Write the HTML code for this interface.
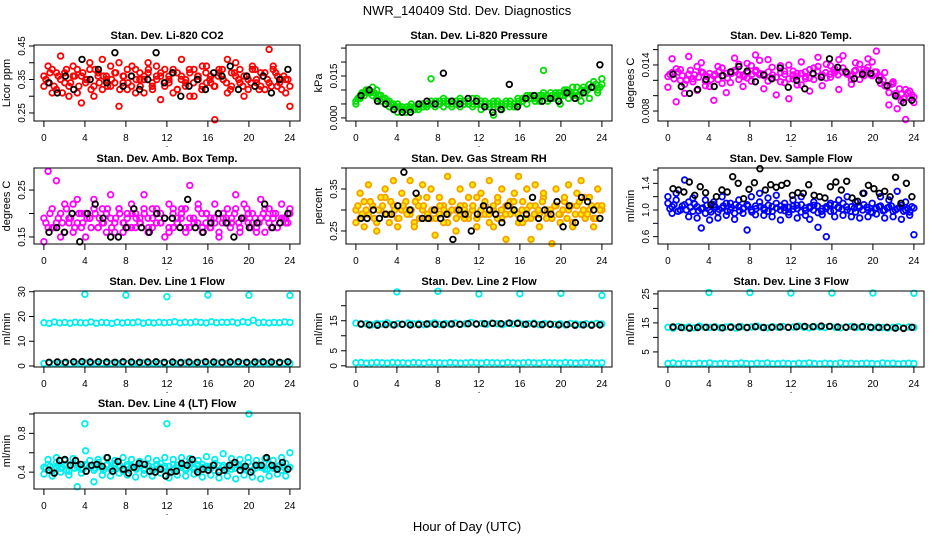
<!DOCTYPE html>
<html><head><meta charset="utf-8"><style>
html,body{margin:0;padding:0;background:#fff;}
svg{display:block;font-family:"Liberation Sans",sans-serif;}
</style></head><body>
<svg id="chart" width="936" height="540" viewBox="0 0 936 540" xmlns="http://www.w3.org/2000/svg">
<text x="467" y="15" text-anchor="middle" font-size="13">NWR_140409 Std. Dev. Diagnostics</text>
<text x="467" y="531" text-anchor="middle" font-size="13">Hour of Day (UTC)</text>
</svg>
<script>
const xTicks=[0,4,8,12,16,20,24];
const outHours=[4,8,12,16,20,24];

const co2Main=[0.36,0.34,0.38,0.32,0.35,0.37,0.33,0.39,0.31,0.36,0.34,0.38,0.30,0.36,0.41,0.35,0.33,0.37,0.40,0.34,0.32,0.36,0.38,0.35,0.31,0.37,0.34,0.39,0.36,0.33,0.35,0.38,0.32,0.36,0.34,0.37,0.30,0.35,0.39,0.34,0.36,0.33,0.38,0.35,0.31,0.37,0.40,0.34,0.36,0.32,0.38,0.35,0.33,0.37,0.34,0.39,0.36,0.32,0.35,0.33];
const co2Alt=[0.33,0.39,0.31,0.37,0.42,0.34,0.30,0.36,0.38,0.28,0.35,0.40,0.33,0.37,0.32,0.36,0.39,0.34,0.27,0.36,0.38,0.33,0.31,0.37,0.35,0.40,0.33,0.36,0.29,0.38,0.34,0.37,0.32,0.41,0.35,0.30,0.38,0.36,0.33,0.39,0.34,0.23,0.37,0.35,0.41,0.33,0.36,0.38,0.30,0.35,0.39,0.34,0.37,0.32,0.44,0.38,0.33,0.35,0.31,0.27];
const co2Extra=[0.35,0.37,0.33,0.36,0.31,0.38,0.34,0.36,0.33,0.37,0.35,0.32,0.38,0.34,0.36,0.33,0.35,0.37,0.32,0.36,0.34,0.39,0.35,0.33,0.36,0.38,0.32,0.35,0.37,0.34,0.36,0.31,0.37,0.35,0.33,0.38,0.34,0.36,0.32,0.37,0.35,0.33,0.36,0.38,0.34,0.32,0.37,0.35,0.33,0.36,0.34,0.38,0.32,0.36,0.35,0.33,0.37,0.34,0.36,0.35];
const co2Black=[0.34,0.31,0.36,0.32,0.41,0.35,0.38,0.34,0.43,0.33,0.36,0.32,0.35,0.43,0.34,0.37,0.30,0.33,0.35,0.32,0.37,0.36,0.39,0.32,0.36,0.33,0.36,0.31,0.35,0.38];

const presMain=[0.006,0.008,0.009,0.010,0.011,0.010,0.008,0.007,0.006,0.005,0.005,0.004,0.003,0.004,0.003,0.004,0.005,0.004,0.006,0.005,0.006,0.007,0.006,0.005,0.006,0.007,0.006,0.005,0.007,0.006,0.006,0.005,0.004,0.006,0.005,0.004,0.006,0.005,0.004,0.006,0.007,0.008,0.007,0.006,0.008,0.009,0.007,0.008,0.009,0.008,0.010,0.009,0.008,0.011,0.010,0.009,0.012,0.011,0.010,0.012];
const presAlt=[0.005,0.007,0.008,0.009,0.008,0.007,0.006,0.005,0.004,0.003,0.002,0.003,0.002,0.003,0.004,0.003,0.004,0.005,0.014,0.004,0.005,0.004,0.005,0.004,0.006,0.004,0.005,0.006,0.004,0.005,0.003,0.004,0.005,0.001,0.004,0.003,0.005,0.006,0.004,0.005,0.006,0.005,0.007,0.008,0.006,0.017,0.006,0.007,0.008,0.005,0.009,0.007,0.011,0.008,0.006,0.010,0.007,0.013,0.009,0.014];
const presExtra=[0.007,0.009,0.010,0.009,0.009,0.008,0.007,0.006,0.005,0.004,0.004,0.003,0.004,0.005,0.004,0.005,0.004,0.005,0.005,0.006,0.005,0.006,0.005,0.006,0.005,0.006,0.005,0.006,0.005,0.007,0.005,0.006,0.005,0.005,0.006,0.005,0.005,0.004,0.005,0.007,0.006,0.007,0.008,0.007,0.007,0.008,0.008,0.009,0.007,0.009,0.008,0.010,0.009,0.009,0.008,0.011,0.010,0.011,0.012,0.011];
const presBlack=[0.008,0.010,0.006,0.005,0.003,0.002,0.002,0.005,0.006,0.005,0.016,0.006,0.005,0.007,0.006,0.004,0.002,0.003,0.012,0.004,0.007,0.008,0.006,0.007,0.006,0.009,0.007,0.009,0.011,0.019];

const tempMain=[0.0125,0.0130,0.0135,0.0120,0.0115,0.0128,0.0122,0.0138,0.0131,0.0119,0.0112,0.0126,0.0121,0.0136,0.0129,0.0117,0.0133,0.0141,0.0127,0.0123,0.0139,0.0131,0.0146,0.0128,0.0119,0.0137,0.0124,0.0118,0.0132,0.0140,0.0122,0.0129,0.0114,0.0125,0.0134,0.0121,0.0138,0.0127,0.0123,0.0139,0.0130,0.0147,0.0136,0.0128,0.0121,0.0133,0.0141,0.0126,0.0137,0.0144,0.0131,0.0124,0.0113,0.0104,0.0116,0.0099,0.0093,0.0108,0.0097,0.0091];
const tempAlt=[0.0111,0.0148,0.0092,0.0134,0.0103,0.0151,0.0118,0.0107,0.0143,0.0113,0.0129,0.0094,0.0138,0.0116,0.0104,0.0131,0.0149,0.0121,0.0112,0.0142,0.0119,0.0153,0.0127,0.0109,0.0147,0.0123,0.0101,0.0139,0.0117,0.0096,0.0132,0.0114,0.0144,0.0122,0.0106,0.0136,0.0150,0.0113,0.0141,0.0124,0.0135,0.0108,0.0152,0.0129,0.0115,0.0143,0.0121,0.0134,0.0148,0.0126,0.0158,0.0116,0.0130,0.0088,0.0118,0.0083,0.0102,0.0069,0.0106,0.0098];
const tempExtra=[0.0128,0.0122,0.0131,0.0126,0.0120,0.0133,0.0127,0.0124,0.0130,0.0125,0.0121,0.0128,0.0132,0.0126,0.0123,0.0129,0.0131,0.0127,0.0125,0.0130,0.0128,0.0133,0.0129,0.0126,0.0131,0.0127,0.0124,0.0130,0.0128,0.0122,0.0127,0.0125,0.0129,0.0131,0.0123,0.0128,0.0132,0.0126,0.0130,0.0128,0.0133,0.0127,0.0131,0.0129,0.0126,0.0132,0.0128,0.0130,0.0133,0.0127,0.0131,0.0126,0.0120,0.0112,0.0115,0.0103,0.0109,0.0096,0.0104,0.0101];
const tempBlack=[0.0128,0.0112,0.0103,0.0108,0.0121,0.0112,0.0126,0.0131,0.0138,0.0132,0.0118,0.0127,0.0122,0.0136,0.0111,0.0120,0.0109,0.0129,0.0124,0.0148,0.0137,0.0131,0.0122,0.0128,0.0129,0.0120,0.0113,0.0100,0.0091,0.0094];

const ambMain=[0.19,0.17,0.21,0.18,0.20,0.16,0.19,0.22,0.18,0.17,0.20,0.19,0.21,0.17,0.18,0.20,0.19,0.16,0.21,0.18,0.19,0.17,0.20,0.18,0.21,0.19,0.17,0.20,0.18,0.19,0.16,0.21,0.18,0.20,0.17,0.19,0.18,0.21,0.17,0.20,0.19,0.18,0.16,0.20,0.18,0.19,0.21,0.17,0.19,0.20,0.18,0.16,0.19,0.21,0.18,0.20,0.17,0.19,0.18,0.20];
const ambAlt=[0.14,0.29,0.17,0.27,0.15,0.22,0.18,0.16,0.23,0.20,0.15,0.19,0.23,0.17,0.21,0.16,0.24,0.18,0.21,0.16,0.20,0.22,0.17,0.19,0.24,0.16,0.21,0.18,0.20,0.15,0.22,0.17,0.19,0.21,0.16,0.26,0.18,0.22,0.16,0.20,0.17,0.22,0.15,0.19,0.21,0.18,0.24,0.16,0.22,0.18,0.20,0.17,0.23,0.16,0.21,0.19,0.17,0.22,0.19,0.21];
const ambExtra=[0.18,0.20,0.17,0.19,0.18,0.21,0.19,0.17,0.20,0.18,0.19,0.17,0.20,0.19,0.18,0.21,0.17,0.19,0.20,0.18,0.17,0.20,0.19,0.18,0.20,0.17,0.19,0.21,0.18,0.19,0.17,0.20,0.18,0.19,0.21,0.17,0.19,0.18,0.20,0.18,0.17,0.19,0.20,0.18,0.19,0.17,0.20,0.18,0.19,0.21,0.17,0.19,0.18,0.20,0.19,0.17,0.20,0.18,0.19,0.18];
const ambBlack=[0.16,0.17,0.16,0.20,0.14,0.20,0.22,0.19,0.15,0.15,0.17,0.21,0.17,0.16,0.20,0.19,0.19,0.17,0.23,0.17,0.16,0.18,0.20,0.18,0.15,0.19,0.17,0.18,0.22,0.17,0.18,0.20];

const rhMain=[0.30,0.28,0.32,0.29,0.31,0.27,0.30,0.33,0.29,0.31,0.28,0.30,0.32,0.29,0.27,0.31,0.30,0.33,0.28,0.30,0.29,0.31,0.27,0.32,0.30,0.29,0.31,0.28,0.30,0.33,0.29,0.31,0.27,0.30,0.32,0.28,0.31,0.29,0.30,0.27,0.32,0.30,0.28,0.31,0.29,0.33,0.30,0.28,0.31,0.29,0.32,0.30,0.27,0.31,0.29,0.33,0.30,0.28,0.31,0.30];
const rhAlt=[0.27,0.34,0.26,0.36,0.31,0.25,0.33,0.35,0.27,0.37,0.26,0.34,0.30,0.37,0.26,0.33,0.36,0.28,0.35,0.24,0.33,0.27,0.38,0.30,0.25,0.35,0.28,0.33,0.36,0.26,0.34,0.29,0.37,0.26,0.33,0.35,0.23,0.32,0.34,0.38,0.27,0.35,0.23,0.36,0.26,0.34,0.29,0.22,0.35,0.27,0.33,0.36,0.26,0.34,0.37,0.28,0.33,0.26,0.35,0.31];
const rhExtra=[0.31,0.29,0.30,0.32,0.28,0.30,0.31,0.29,0.32,0.30,0.28,0.31,0.29,0.30,0.32,0.28,0.31,0.29,0.30,0.28,0.31,0.30,0.29,0.32,0.28,0.31,0.30,0.29,0.31,0.28,0.30,0.32,0.29,0.31,0.28,0.30,0.29,0.31,0.32,0.29,0.30,0.28,0.31,0.29,0.30,0.32,0.28,0.30,0.31,0.29,0.30,0.28,0.31,0.29,0.32,0.30,0.29,0.31,0.28,0.30];
const rhBlack=[0.28,0.28,0.30,0.28,0.29,0.29,0.31,0.39,0.30,0.34,0.28,0.28,0.30,0.28,0.29,0.23,0.30,0.29,0.25,0.29,0.31,0.30,0.29,0.27,0.31,0.30,0.28,0.29,0.33,0.28,0.30,0.29,0.32,0.26,0.31,0.27,0.33,0.32,0.30,0.28];

const flowMain=[1.10,1.05,1.15,1.00,1.08,1.12,0.98,1.05,1.02,0.95,1.00,1.08,0.97,1.03,1.10,1.00,0.95,1.05,1.02,1.08,1.00,1.06,1.12,1.03,0.98,1.05,1.10,1.00,1.04,0.97,1.06,1.02,1.08,0.99,1.03,1.07,0.96,1.02,1.05,0.98,1.08,1.03,1.10,1.00,1.05,0.97,1.04,1.08,1.00,0.96,1.03,1.06,1.00,1.04,0.98,1.02,1.07,1.00,0.97,1.03];
const flowAlt=[1.20,0.95,1.25,1.00,1.45,0.90,1.18,0.88,0.73,1.15,0.85,1.12,0.88,1.20,0.92,1.10,0.86,1.15,0.95,0.70,1.20,0.93,1.25,0.92,1.18,0.90,1.22,0.85,1.10,0.93,1.15,0.88,1.20,0.92,0.86,1.12,0.74,0.93,0.60,1.10,0.90,1.15,0.92,1.20,0.90,1.12,0.88,1.25,0.90,1.10,0.94,1.20,0.88,1.15,0.90,1.28,0.86,1.12,0.92,0.63];
const flowExtra=[1.02,1.08,0.98,1.06,1.00,1.04,1.09,0.99,1.03,1.07,0.97,1.05,1.01,1.06,0.98,1.04,1.08,0.99,1.03,1.06,0.97,1.02,1.05,1.00,1.07,0.98,1.03,1.06,0.99,1.04,1.01,1.07,0.97,1.03,1.05,1.00,1.06,0.98,1.02,1.07,0.99,1.04,1.01,1.05,0.98,1.03,1.06,1.00,1.04,0.97,1.02,1.05,0.99,1.03,1.06,1.00,1.04,0.98,1.02,1.05];
const flowBlack=[1.32,1.30,1.27,1.42,1.22,1.35,1.26,1.08,1.20,1.30,1.27,1.50,1.40,1.17,1.31,1.41,1.62,1.30,1.38,1.34,1.37,1.40,1.22,1.26,1.25,1.38,1.22,1.20,1.18,1.35,1.42,1.30,1.43,1.18,1.13,1.25,1.37,1.32,1.25,1.28,1.20,1.49,1.10,1.40,1.20];

const line1Main=[17.5,17.2,17.8,17.4,17.6,17.3,17.7,17.5,17.4,17.8,17.3,17.6,17.5,17.2,17.7,17.4,17.6,17.5,17.8,17.3,17.6,17.4,17.7,17.5,17.6,17.9,17.4,17.7,17.5,17.8,17.6,17.4,17.9,17.5,17.7,17.6,17.8,17.4,17.9,17.6,18.5,17.5,17.7,17.4,17.6,17.5,17.8,17.6];
const line1Low=[1.0,1.2,0.9,1.1,1.0,0.8,1.1,1.0,1.2,0.9,1.0,1.1,0.9,1.0,1.2,1.0,0.9,1.1,1.0,1.2,0.9,1.0,1.1,1.0,0.9,1.1,1.0,1.2,1.0,0.9,1.1,1.0,0.9,1.2,1.0,1.1,0.9,1.0,1.1,1.0,0.9,1.2,1.0,1.1,0.9,1.0,1.1,1.0];
const line1Out=[29.0,28.6,28.0,28.7,28.6,28.5];
const line1Black=[1.5,1.6,1.5,1.7,1.8,1.6,1.7,1.6,1.5,1.7,1.6,1.5,1.6,1.7,1.5,1.6,1.4,1.6,1.5,1.7,1.6,1.5,1.6,1.7,1.5,1.6,1.7,1.6,1.5,1.7];

const line2Main=[14.2,13.8,14.0,13.6,14.1,13.9,14.3,13.7,14.0,13.8,14.2,13.9,14.1,13.7,14.0,14.3,13.8,14.1,13.9,14.2,13.8,14.0,14.4,13.9,14.1,13.8,14.2,14.0,13.7,14.1,13.9,14.3,13.8,14.0,14.2,13.7,14.1,13.9,13.8,14.0,13.6,14.1,13.9,13.7,14.0,13.8,14.1,13.9];
const line2Low=[1.0,1.1,0.9,1.0,1.1,1.0,0.9,1.1,1.0,1.0,0.9,1.1,1.0,0.9,1.1,1.0,1.0,0.9,1.1,1.0,0.9,1.0,1.1,1.0,0.9,1.1,1.0,1.0,0.9,1.1,1.0,0.9,1.0,1.1,1.0,0.9,1.1,1.0,1.0,0.9,1.1,1.0,0.9,1.0,1.1,1.0,0.9,1.0];
const line2Out=[24.6,24.8,23.9,24.0,24.1,23.4];
const line2Black=[13.9,13.6,13.5,13.7,13.6,13.8,13.6,13.7,13.9,13.8,13.7,13.9,13.8,14.0,13.9,14.0,14.1,14.0,14.2,14.1,13.8,13.9,13.7,13.8,13.6,13.7,13.5,13.6,13.5,13.6];

const line3Main=[13.5,13.2,13.8,13.4,13.6,13.3,13.9,13.5,13.4,13.7,13.3,13.6,13.8,13.2,13.7,13.4,13.6,13.9,13.5,13.3,13.7,13.5,13.8,13.4,13.6,13.9,13.5,13.3,13.7,13.6,13.4,13.8,13.5,13.3,13.6,13.8,13.4,13.5,13.7,13.3,13.6,13.4,13.2,13.5,13.7,13.3,13.6,13.4];
const line3Low=[1.0,1.2,0.9,1.1,1.0,0.9,1.1,1.0,1.2,0.9,1.0,1.1,0.9,1.0,1.2,1.0,0.9,1.1,1.0,1.2,0.9,1.0,1.1,1.0,0.9,1.1,1.0,1.2,1.0,0.9,1.1,1.0,0.9,1.2,1.0,1.1,0.9,1.0,1.1,1.0,0.9,1.2,1.0,1.1,0.9,1.0,1.1,1.0];
const line3Out=[25.5,25.5,25.3,25.3,25.3,25.2];
const line3Black=[13.6,13.4,13.2,13.4,13.5,13.5,13.3,13.5,13.6,13.4,13.7,13.4,13.5,13.6,13.5,13.7,13.8,13.7,13.9,13.8,13.6,13.5,13.6,13.7,13.5,13.4,13.5,13.2,13.1,13.5];

const line4Main=[0.45,0.48,0.42,0.50,0.44,0.47,0.41,0.49,0.45,0.43,0.48,0.46,0.42,0.50,0.44,0.47,0.43,0.49,0.45,0.41,0.48,0.46,0.44,0.50,0.42,0.47,0.45,0.43,0.49,0.46,0.41,0.48,0.44,0.47,0.42,0.50,0.45,0.43,0.48,0.46,0.44,0.49,0.42,0.47,0.45,0.43,0.48,0.46,0.44,0.50,0.42,0.47,0.45,0.43,0.48,0.44,0.46,0.42,0.49,0.45];
const line4Alt=[0.38,0.53,0.36,0.55,0.40,0.52,0.37,0.54,0.25,0.39,0.62,0.52,0.30,0.53,0.37,0.55,0.36,0.52,0.39,0.55,0.37,0.53,0.35,0.51,0.38,0.54,0.36,0.52,0.39,0.55,0.34,0.53,0.37,0.55,0.36,0.54,0.38,0.52,0.35,0.56,0.37,0.53,0.34,0.59,0.36,0.54,0.33,0.53,0.37,0.55,0.35,0.52,0.33,0.54,0.36,0.52,0.38,0.55,0.36,0.60];
const line4Extra=[0.44,0.46,0.43,0.47,0.45,0.42,0.48,0.44,0.46,0.43,0.47,0.45,0.44,0.46,0.42,0.48,0.45,0.43,0.47,0.44,0.46,0.45,0.43,0.47,0.44,0.46,0.42,0.48,0.45,0.44,0.46,0.43,0.47,0.45,0.44,0.46,0.43,0.48,0.45,0.44,0.46,0.42,0.47,0.45,0.43,0.46,0.44,0.48,0.45,0.43,0.46,0.44,0.47,0.45,0.43,0.46,0.44,0.47,0.45,0.44];
const line4Out=[0.90,0.90,1.00];
const line4OutHours=[4,12,20];
const line4Black=[0.42,0.39,0.52,0.53,0.47,0.52,0.48,0.41,0.47,0.48,0.46,0.55,0.41,0.51,0.43,0.39,0.45,0.49,0.48,0.41,0.40,0.43,0.36,0.40,0.41,0.49,0.47,0.53,0.40,0.43,0.42,0.47,0.40,0.42,0.47,0.50,0.42,0.46,0.40,0.47,0.47,0.55,0.47,0.43,0.50,0.43];

const svg=document.getElementById('chart');
const NS='http://www.w3.org/2000/svg';
function mk(tag,attrs,parent){const e=document.createElementNS(NS,tag);for(const k in attrs)e.setAttribute(k,attrs[k]);(parent||svg).appendChild(e);return e;}
const colLeft=[34,346,658],rowTop=[45,168,291,413],BW=266,BH=76;

function evenHours(n,a,b){const h=[];for(let i=0;i<n;i++)h.push(a+i*(b-a)/(n-1));return h;}
const EXH=evenHours(60,0.2,23.8);

const panels=[
 {name:'co2',title:'Stan. Dev. Li-820 CO2',ylab:'Licor ppm',c:0,r:0,ymin:0.226,ymax:0.453,ticks:[0.25,0.30,0.35,0.40,0.45],labels:['0.25','','0.35','','0.45'],
  series:[[co2Main,'#ff0000'],[co2Alt,'#ff0000'],[co2Extra,'#ff0000',0,null,EXH],[co2Black,'#000']]},
 {name:'pressure',title:'Stan. Dev. Li-820 Pressure',ylab:'kPa',c:1,r:0,ymin:-0.0011,ymax:0.0261,ticks:[0,0.005,0.010,0.015,0.020,0.025],labels:['0.000','','','0.015','',''],
  series:[[presMain,'#00dd00'],[presAlt,'#00dd00'],[presExtra,'#00dd00',0,null,EXH],[presBlack,'#000']]},
 {name:'temp',title:'Stan. Dev. Li-820 Temp.',ylab:'degrees C',c:2,r:0,ymin:0.0067,ymax:0.0166,ticks:[0.008,0.010,0.012,0.014,0.016],labels:['0.008','','','0.014',''],
  series:[[tempMain,'#ff00ff'],[tempAlt,'#ff00ff'],[tempExtra,'#ff00ff',0,null,EXH],[tempBlack,'#000']]},
 {name:'amb-box-temp',title:'Stan. Dev. Amb. Box Temp.',ylab:'degrees C',c:0,r:1,ymin:0.135,ymax:0.297,ticks:[0.15,0.20,0.25],labels:['0.15','','0.25'],
  series:[[ambMain,'#ff00ff'],[ambAlt,'#ff00ff'],[ambExtra,'#ff00ff',0,null,EXH],[ambBlack,'#000']]},
 {name:'gas-rh',title:'Stan. Dev. Gas Stream RH',ylab:'percent',c:1,r:1,ymin:0.219,ymax:0.40,ticks:[0.25,0.30,0.35,0.40],labels:['0.25','','0.35',''],
  series:[[rhMain,'#f5a000',1,'#ffee00'],[rhAlt,'#f5a000',1,'#ffee00'],[rhExtra,'#f5a000',1,'#ffee00',EXH],[rhBlack,'#000']]},
 {name:'sample-flow',title:'Stan. Dev. Sample Flow',ylab:'ml/min',c:2,r:1,ymin:0.49,ymax:1.63,ticks:[0.6,0.8,1.0,1.2,1.4,1.6],labels:['0.6','','1.0','','1.4',''],
  series:[[flowMain,'#0000ff'],[flowAlt,'#0000ff'],[flowExtra,'#0000ff',0,null,EXH],[flowBlack,'#000']]},
 {name:'line1-flow',title:'Stan. Dev. Line 1 Flow',ylab:'ml/min',c:0,r:2,ymin:-0.4,ymax:30.3,ticks:[0,10,20,30],labels:['0','10','20','30'],
  series:[[line1Main,'#00eeee'],[line1Low,'#00eeee'],[line1Out,'#00eeee',0,null,outHours],[line1Black,'#000']]},
 {name:'line2-flow',title:'Stan. Dev. Line 2 Flow',ylab:'ml/min',c:1,r:2,ymin:-0.4,ymax:24.9,ticks:[0,5,10,15,20],labels:['0','5','','15',''],
  series:[[line2Main,'#00eeee'],[line2Low,'#00eeee'],[line2Out,'#00eeee',0,null,outHours],[line2Black,'#000']]},
 {name:'line3-flow',title:'Stan. Dev. Line 3 Flow',ylab:'ml/min',c:2,r:2,ymin:-0.2,ymax:26,ticks:[5,10,15,20,25],labels:['5','','15','','25'],
  series:[[line3Main,'#00eeee'],[line3Low,'#00eeee'],[line3Out,'#00eeee',0,null,outHours],[line3Black,'#000']]},
 {name:'line4-flow',title:'Stan. Dev. Line 4 (LT) Flow',ylab:'ml/min',c:0,r:3,ymin:0.226,ymax:1.01,ticks:[0.4,0.6,0.8,1.0],labels:['0.4','','0.8',''],
  series:[[line4Main,'#00eeee'],[line4Alt,'#00eeee'],[line4Extra,'#00eeee',0,null,EXH],[line4Out,'#00eeee',0,null,line4OutHours],[line4Black,'#000']]}
];

panels.forEach(p=>{
 const L=colLeft[p.c],T=rowTop[p.r];
 const g=mk('g',{});
 
 
 const xs=h=>L+9.9+h*(246/24);
 const ys=v=>T+BH-(v-p.ymin)/(p.ymax-p.ymin)*BH;
 const t=mk('text',{x:L+BW/2,y:T-6,'text-anchor':'middle','font-size':'11','font-weight':'bold'},g);
 t.textContent=p.title;
 
 
 const yl=mk('text',{x:0,y:0,'text-anchor':'middle','font-size':'11',transform:`translate(${L-24},${T+BH/2}) rotate(-90)`},g);
 yl.textContent=p.ylab;
 
 
 const pg=mk('g',{},g);
 
 
 p.series.forEach(s=>{
  const vals=s[0],col=s[1],fill=s[3]||'none';
  const hrs=s[4]||(col==='#000'?evenHours(vals.length,0.5,23.8):evenHours(vals.length,0,24));
  vals.forEach((v,i)=>{
   const y=ys(v); if(y<T-2||y>T+BH+2) return;
   const c=mk('circle',{cx:xs(hrs[i]).toFixed(1),cy:y.toFixed(1),r:2.8,fill:fill,stroke:col,'stroke-width':1.8},pg);
   
   
  });
 });
 const box=mk('rect',{x:L,y:T,width:BW,height:BH,fill:'none',stroke:'#000','stroke-width':1},g);
 
 
 xTicks.forEach(h=>{
  mk('line',{x1:xs(h),x2:xs(h),y1:T+BH,y2:T+BH+6,stroke:'#000'},g);
  const tx=mk('text',{x:xs(h),y:T+BH+20,'text-anchor':'middle','font-size':'10'},g);
  tx.textContent=h;
  
  
 });
 const dot=mk('text',{x:L+BW/2,y:T+BH+26,'text-anchor':'middle','font-size':'9'},g);
 dot.textContent='.';
 p.ticks.forEach((v,i)=>{
  const y=ys(v);
  mk('line',{x1:L-5,x2:L,y1:y,y2:y,stroke:'#000'},g);
  if(p.labels[i]){
   const ty=mk('text',{x:0,y:0,'text-anchor':'middle','font-size':'10',transform:`translate(${L-9},${y}) rotate(-90)`},g);
   ty.textContent=p.labels[i];
   
   
  }
 });
});
</script>
</body></html>
